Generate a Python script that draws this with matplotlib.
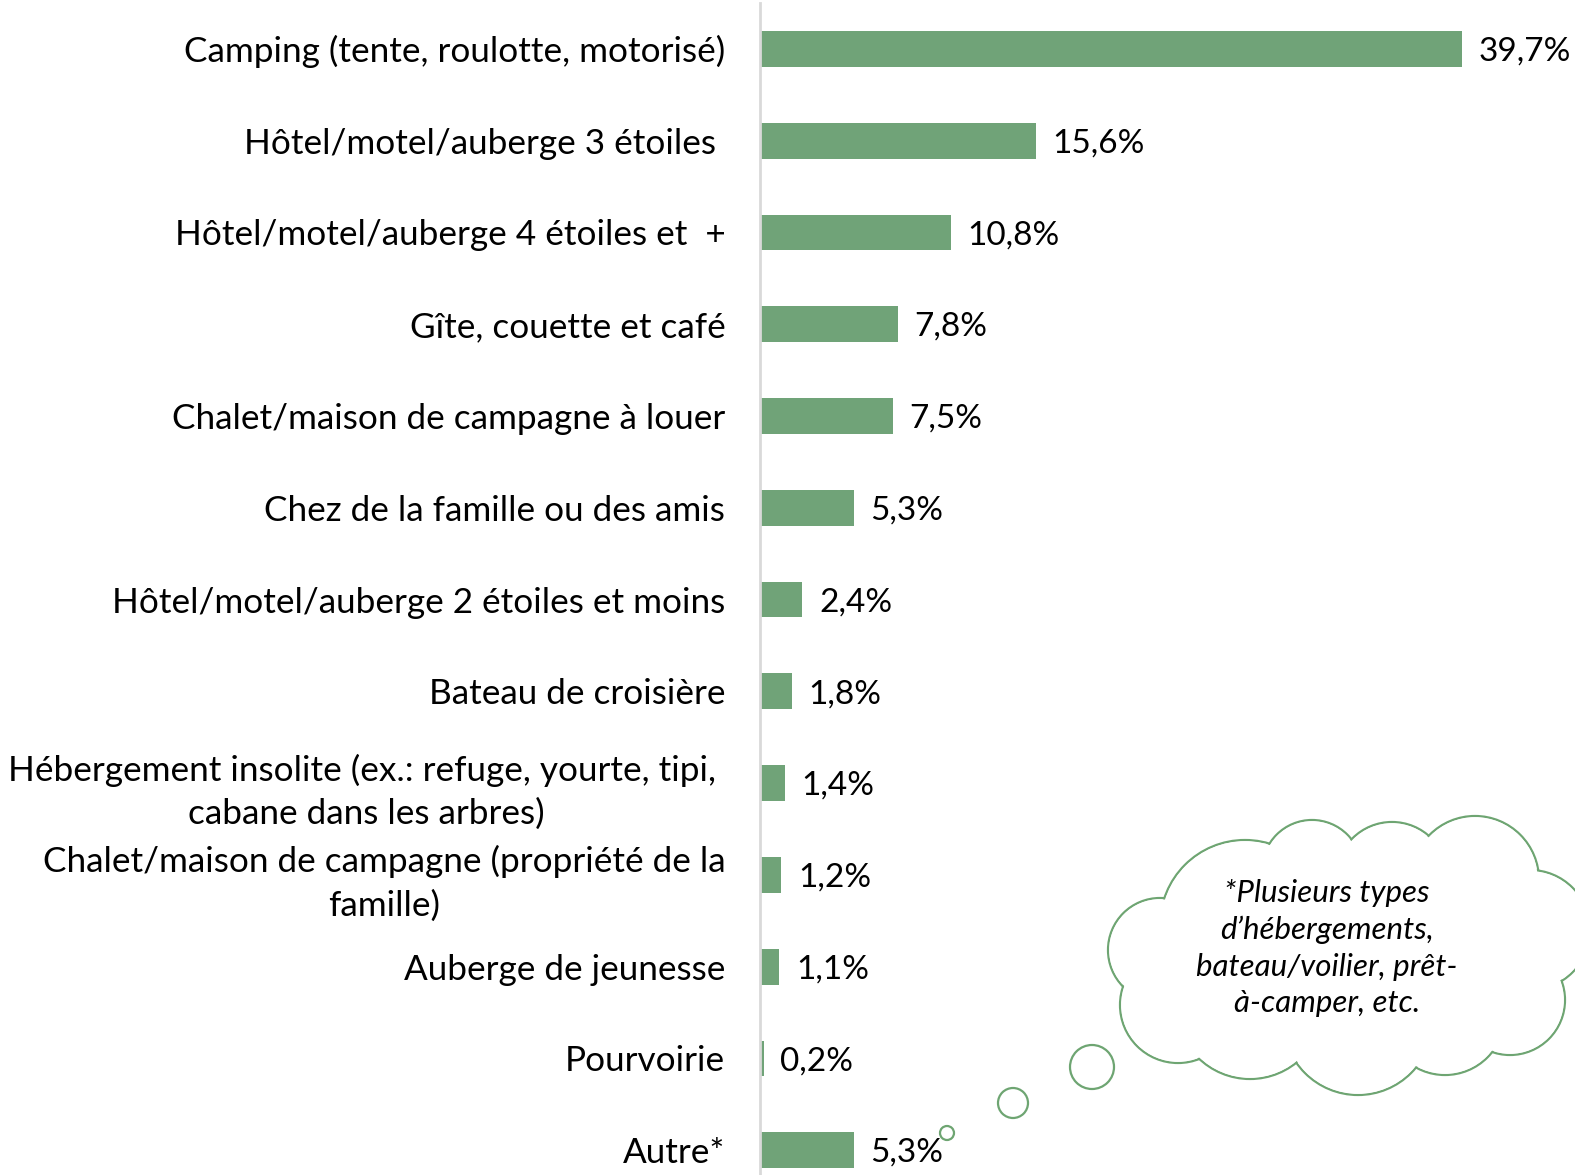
import matplotlib
matplotlib.use("Agg")
import matplotlib.pyplot as plt
from matplotlib.patches import Circle

# Data
categories = [
    "Camping (tente, roulotte, motorisé)",
    "Hôtel/motel/auberge 3 étoiles ",
    "Hôtel/motel/auberge 4 étoiles et  +",
    "Gîte, couette et café",
    "Chalet/maison de campagne à louer",
    "Chez de la famille ou des amis",
    "Hôtel/motel/auberge 2 étoiles et moins",
    "Bateau de croisière",
    "Hébergement insolite (ex.: refuge, yourte, tipi, \ncabane dans les arbres)",
    "Chalet/maison de campagne (propriété de la\nfamille)",
    "Auberge de jeunesse",
    "Pourvoirie",
    "Autre*",
]
values = [39.7, 15.6, 10.8, 7.8, 7.5, 5.3, 2.4, 1.8, 1.4, 1.2, 1.1, 0.2, 5.3]
value_labels = ["39,7%", "15,6%", "10,8%", "7,8%", "7,5%", "5,3%", "2,4%",
                "1,8%", "1,4%", "1,2%", "1,1%", "0,2%", "5,3%"]
note = "*Plusieurs types\nd\u2019hébergements,\nbateau/voilier, prêt-\nà-camper, etc."

BAR_COLOR = "#70a378"
CLOUD_COLOR = "#6ea572"
FONT = "Lato"
W, H = 1575, 1175

fig = plt.figure(figsize=(W / 100, H / 100), dpi=100)
ax = fig.add_axes([760 / W, 0, 1 - 760 / W, 1 - 3 / H])

y = list(range(len(categories)))
ax.barh(y, values, height=0.39, color=BAR_COLOR)
ax.set_xlim(0, 46.1)
ax.set_ylim(12.27, -0.5)

for yi, v, lab in zip(y, values, value_labels):
    ax.text(v + 0.95, yi + 0.03, lab, va="center", ha="left",
            fontsize=24, family=FONT, color="black")

ax.set_yticks(y)
ax.set_yticklabels(categories, fontsize=25.3, family=FONT,
                   multialignment="center", linespacing=1.42)
ax.tick_params(axis="y", length=0, pad=25)
ax.set_xticks([])
for s in ["top", "right", "bottom"]:
    ax.spines[s].set_visible(False)
ax.spines["left"].set_color("#d9d9d9")
ax.spines["left"].set_linewidth(2)

# Cloud overlay in pixel coordinates
ov = fig.add_axes([0, 0, 1, 1], zorder=5)
ov.set_xlim(0, W)
ov.set_ylim(H, 0)
ov.axis("off")
ov.patch.set_alpha(0)

lobes = [
    (1160, 950, 52), (1178, 1005, 58), (1245, 925, 85), (1312, 870, 50),
    (1392, 878, 56), (1475, 880, 64), (1530, 930, 60), (1510, 1000, 55),
    (1445, 1015, 60), (1358, 1020, 75), (1250, 1005, 74), (1320, 950, 100),
    (1420, 950, 90),
]
for cx, cy, r in lobes:
    ov.add_patch(Circle((cx, cy), r, facecolor="white", edgecolor=CLOUD_COLOR, lw=1.6, zorder=1))
for cx, cy, r in lobes:
    ov.add_patch(Circle((cx, cy), r - 1.3, facecolor="white", edgecolor="none", zorder=2))

for cx, cy, r in [(1092, 1067, 22), (1013, 1103, 15), (947, 1133, 7)]:
    ov.add_patch(Circle((cx, cy), r, facecolor="white", edgecolor=CLOUD_COLOR, lw=1.6, zorder=2))

ov.text(1327, 948, note, ha="center", va="center", fontsize=22.5, family=FONT,
        style="italic", linespacing=1.38, zorder=3)

fig.savefig("out.png", dpi=100)
